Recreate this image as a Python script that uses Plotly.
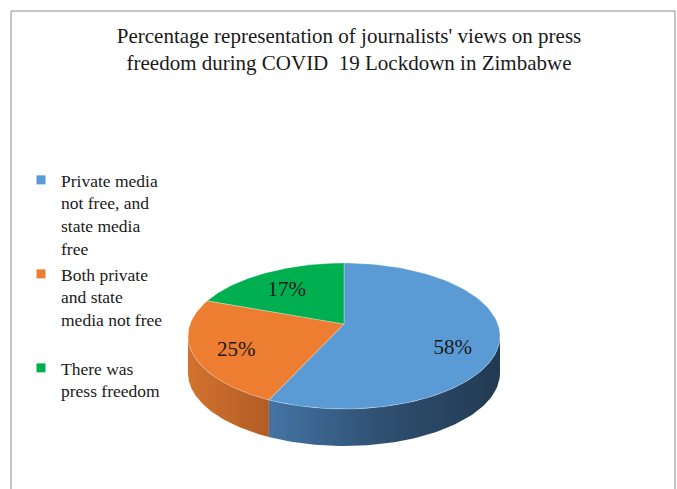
import numpy as np
import plotly.graph_objects as go

# ---- data ----
categories = ["Private media<br>not free, and<br>state media<br>free",
              "Both private<br>and state<br>media not free<br> ",
              "There was<br>press freedom"]
values = [58, 25, 17]
labels = ["58%", "25%", "17%"]
top_colors = ["#5B9BD5", "#ED7D31", "#00B050"]
side_scales = [
    [[0, "#4474a5"], [0.5, "#2e4f70"], [1, "#223a52"]],
    [[0, "#d2722f"], [1, "#b25c25"]],
    [[0, "#00883e"], [1, "#006a30"]],
]
title_text = "Percentage representation of journalists' views on press<br>freedom during COVID  19 Lockdown in Zimbabwe"

# ---- geometry (pixel space) ----
W, H = 677, 489
cx, cy = 344, 336
rx, ry = 156, 73
vx, vy = 344, 324      # slice vertex (perspective)
depth = 37
label_frac = 0.72
FONT = "Liberation Serif"


def edge(theta_deg):
    t = np.radians(theta_deg)
    return cx + rx * np.sin(t), cy - ry * np.cos(t)


fig = go.Figure()

total = float(sum(values))
starts = np.concatenate([[0], np.cumsum(values)[:-1]]) / total * 360
ends = np.cumsum(values) / total * 360

# side walls (front visible half: 90..270 deg clockwise from top)
for i in range(len(values)):
    a = max(starts[i], 90)
    b = min(ends[i], 270)
    if b <= a:
        continue
    th = np.linspace(a, b, 80)
    ex, ey = edge(th)
    xs = np.concatenate([ex, ex[::-1], ex[:1]])
    ys = np.concatenate([ey, ey[::-1] + depth, ey[:1]])
    fig.add_trace(go.Scatter(
        x=xs, y=ys, mode="lines", fill="toself",
        line=dict(width=0, color=side_scales[i][-1][1]),
        fillgradient=dict(type="horizontal", colorscale=side_scales[i],
                          start=float(ex.min()), stop=float(ex.max())),
        hoverinfo="skip", showlegend=False))

# top faces
for i in range(len(values)):
    th = np.linspace(starts[i], ends[i], 120)
    ex, ey = edge(th)
    xs = np.concatenate([[vx], ex, [vx]])
    ys = np.concatenate([[vy], ey, [vy]])
    fig.add_trace(go.Scatter(
        x=xs, y=ys, mode="lines", fill="toself", fillcolor=top_colors[i],
        line=dict(width=0.8, color="rgba(255,255,255,0.35)"),
        hoverinfo="skip", showlegend=False))

# data labels
mids = (starts + ends) / 2
lx, ly = [], []
for m in mids:
    ex, ey = edge(m)
    lx.append(cx + label_frac * (ex - cx))
    ly.append(cy + label_frac * (ey - cy))
fig.add_trace(go.Scatter(
    x=lx, y=ly, mode="text", text=labels,
    textfont=dict(family=FONT, size=21, color="#1a1a1a"),
    hoverinfo="skip", showlegend=False))

# legend entries
for i, name in enumerate(categories):
    fig.add_trace(go.Scatter(
        x=[None], y=[None], mode="markers", name=name,
        marker=dict(symbol="square", size=9, color=top_colors[i]),
        hoverinfo="skip"))

fig.update_layout(
    width=W, height=H,
    margin=dict(l=0, r=0, t=0, b=0),
    paper_bgcolor="white", plot_bgcolor="white",
    xaxis=dict(range=[0, W], visible=False, fixedrange=True),
    yaxis=dict(range=[H, 0], visible=False, fixedrange=True),
    title=dict(text=title_text, x=349 / W, xanchor="center",
               y=1 - 43 / H, yanchor="top",
               font=dict(family=FONT, size=21, color="#1a1a1a")),
    legend=dict(x=21 / W, xanchor="left", y=1 - 162 / H, yanchor="top",
                valign="top", itemwidth=30, tracegroupgap=0,
                font=dict(family=FONT, size=17.5, color="#1a1a1a"),
                bgcolor="rgba(0,0,0,0)"),
    showlegend=True,
    shapes=[dict(type="rect", xref="x", yref="y", x0=11, y0=11, x1=675, y1=H + 5,
                 line=dict(color="#8c8c8c", width=1), layer="below")],
)

fig.write_html("out.html")
